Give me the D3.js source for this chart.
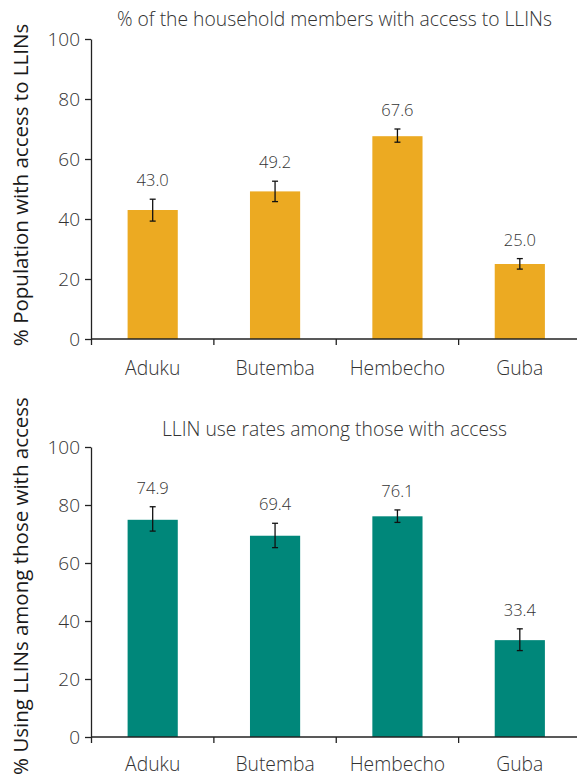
<!DOCTYPE html>
<html>
<head>
<meta charset="utf-8">
<script src="https://cdn.jsdelivr.net/npm/d3@7/dist/d3.min.js"></script>
<style>
  html, body { margin: 0; padding: 0; background: #fff; }
  svg { display: block; }
  text { font-family: "Open Sans", "Noto Sans", sans-serif; }
</style>
</head>
<body>
<svg id="chart" width="577" height="781"></svg>
<script>
// ---- data ----
const categories = ["Aduku", "Butemba", "Hembecho", "Guba"];
const yTicks = [0, 20, 40, 60, 80, 100];

const accessTitle = "% of the household members with access to LLINs";
const accessAxisTitle = "% Population with access to LLINs";
const accessValues = [43.0, 49.2, 67.6, 25.0];
const accessLower = [39.3, 45.8, 65.6, 23.3];
const accessUpper = [46.6, 52.6, 70.0, 26.8];

const useTitle = "LLIN use rates among those with access";
const useAxisTitle = "% Using LLINs among those with access";
const useValues = [74.9, 69.4, 76.1, 33.4];
const useLower = [71.0, 65.3, 74.0, 29.8];
const useUpper = [79.4, 73.7, 78.3, 37.3];

// ---- drawing ----
const svg = d3.select("#chart");
const fmt = d3.format(".1f");

function drawPanel(opt) {
  const g = svg.append("g");
  const y = d3.scaleLinear().domain([0, 100]).range([opt.y0, opt.y1]);
  const x = d3.scaleBand().domain(categories).range([91.5, 581]).padding(0);
  const barW = x.bandwidth() * 0.41;
  const axisX = 91;

  // title
  g.append("text")
    .attr("x", 334.5).attr("y", opt.titleY)
    .attr("text-anchor", "middle")
    .attr("font-size", 19.3).attr("font-weight", 300)
    .attr("fill", "#333")
    .text(opt.title);

  // y axis title
  g.append("text")
    .attr("transform", `translate(28,${opt.axisTitleY}) rotate(-90)`)
    .attr("text-anchor", "middle")
    .attr("font-size", 20.5)
    .attr("fill", "#1a1a1a")
    .text(opt.axisTitle);

  // bars
  const data = categories.map((c, i) => ({
    c, v: opt.values[i], lo: opt.lower[i], hi: opt.upper[i]
  }));
  g.selectAll("rect.bar").data(data).enter().append("rect")
    .attr("class", "bar")
    .attr("x", d => x(d.c) + x.bandwidth() / 2 - barW / 2)
    .attr("width", barW)
    .attr("y", d => y(d.v))
    .attr("height", d => y(0) - y(d.v))
    .attr("fill", opt.color);

  // error bars
  const eb = g.selectAll("g.eb").data(data).enter().append("g")
    .attr("class", "eb")
    .attr("transform", d => `translate(${x(d.c) + x.bandwidth() / 2},0)`)
    .attr("stroke", "#111").attr("stroke-width", 1.3);
  eb.append("line").attr("x1", 0).attr("x2", 0)
    .attr("y1", d => y(d.lo)).attr("y2", d => y(d.hi));
  eb.append("line").attr("x1", -3).attr("x2", 3)
    .attr("y1", d => y(d.lo)).attr("y2", d => y(d.lo));
  eb.append("line").attr("x1", -3).attr("x2", 3)
    .attr("y1", d => y(d.hi)).attr("y2", d => y(d.hi));

  // value labels
  g.selectAll("text.val").data(data).enter().append("text")
    .attr("class", "val")
    .attr("x", d => x(d.c) + x.bandwidth() / 2)
    .attr("y", d => y(d.hi) - 13)
    .attr("text-anchor", "middle")
    .attr("font-size", 16.5).attr("font-weight", 300)
    .attr("fill", "#333")
    .text(d => fmt(d.v));

  // y axis
  const yAxis = d3.axisLeft(y).tickValues(yTicks).tickSize(6).tickSizeOuter(0).tickPadding(5);
  const ya = g.append("g").attr("transform", `translate(${axisX},0)`).call(yAxis);
  ya.select(".domain").attr("stroke", "#222").attr("stroke-width", 1.3);
  ya.selectAll(".tick line").attr("stroke", "#222").attr("stroke-width", 1.3);
  ya.selectAll(".tick text")
    .attr("font-family", "\"Open Sans\", sans-serif")
    .attr("font-size", 19).attr("font-weight", 300).attr("fill", "#333");

  // x axis
  g.append("line")
    .attr("x1", axisX).attr("x2", 577)
    .attr("y1", y(0)).attr("y2", y(0))
    .attr("stroke", "#222").attr("stroke-width", 1.3);
  g.selectAll("line.xt").data(categories).enter().append("line")
    .attr("class", "xt")
    .attr("x1", d => x(d)).attr("x2", d => x(d))
    .attr("y1", y(0)).attr("y2", y(0) + 6)
    .attr("stroke", "#222").attr("stroke-width", 1.3);
  g.selectAll("text.cat").data(categories).enter().append("text")
    .attr("class", "cat")
    .attr("x", d => x(d) + x.bandwidth() / 2)
    .attr("y", y(0) + opt.catOffset)
    .attr("text-anchor", "middle")
    .attr("font-size", 19.3).attr("font-weight", 300)
    .attr("fill", "#333")
    .text(d => d);
}

drawPanel({
  title: accessTitle, axisTitle: accessAxisTitle,
  values: accessValues, lower: accessLower, upper: accessUpper,
  color: "#ECAA22", y0: 339, y1: 39, titleY: 26, axisTitleY: 185, catOffset: 36
});
drawPanel({
  title: useTitle, axisTitle: useAxisTitle,
  values: useValues, lower: useLower, upper: useUpper,
  color: "#00877A", y0: 737, y1: 447, titleY: 436, axisTitleY: 586, catOffset: 34
});
</script>
</body>
</html>
